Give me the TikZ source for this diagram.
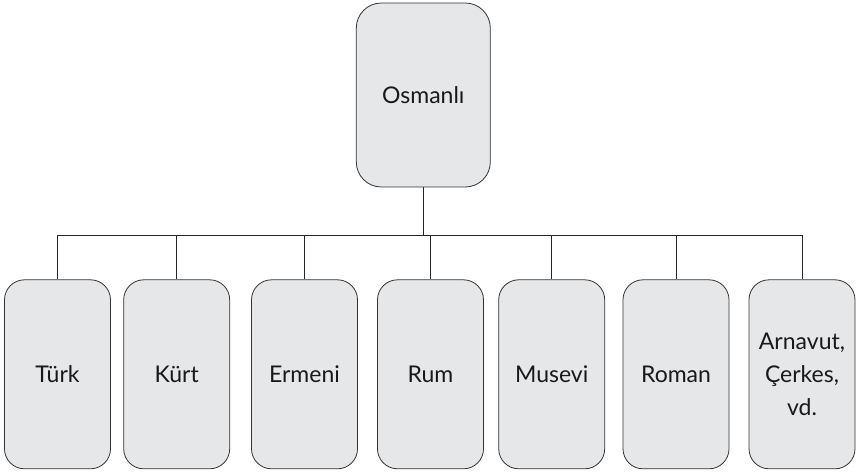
\documentclass[tikz,border=0pt]{standalone}
\usepackage{fontspec}
\setmainfont{Lato}
\begin{document}
\begin{tikzpicture}[x=1pt,y=-1pt,
  box/.style={draw=black!80, line width=0.8pt, fill=boxgray, rounded corners=20pt,
    minimum width=106pt, minimum height=189pt, inner sep=0pt, align=center,
    font=\fontsize{23}{33}\selectfont, text=black!90},
  link/.style={draw=black!85, line width=0.8pt}]
\definecolor{boxgray}{HTML}{E6E7E8}
\useasboundingbox (0,0) rectangle (859,473);
\node[box, minimum width=134pt, minimum height=184pt, rounded corners=25pt] (top) at (423.3,95) {Osmanlı};
\node[box] (turk) at (57.5,374.3) {Türk};
\node[box] (kurt) at (176.7,374.3) {Kürt};
\node[box] (erm) at (304.5,374.3) {Ermeni};
\node[box] (rum) at (430.5,374.3) {Rum};
\node[box] (mus) at (551.7,374.3) {Musevi};
\node[box] (rom) at (676,374.3) {Roman};
\node[box] (arn) at (802,374.3) {Arnavut,\\Çerkes,\\vd.};
\coordinate (bar) at (423,235.5);
\draw[link] (top.south) -- (top.south |- bar);
\draw[link] (turk.north) -- (turk.north |- bar) -- (arn.north |- bar) -- (arn.north);
\foreach \n in {kurt,erm,rum,mus,rom} \draw[link] (\n.north) -- (\n.north |- bar);
\end{tikzpicture}
\end{document}
